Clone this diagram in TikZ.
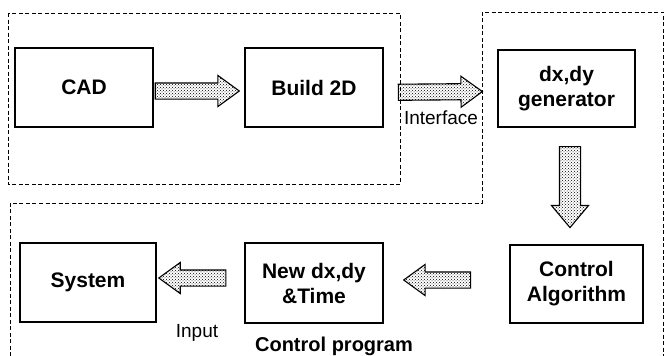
\documentclass[tikz,border=0pt]{standalone}
\usepackage{fontspec}
\setmainfont{Liberation Sans}
\usetikzlibrary{shapes.arrows,patterns,calc}
\newlength{\du}
\setlength{\du}{1pt}
\tikzset{
  blockbox/.style={draw, line width=1.4\du, inner sep=0pt, align=center,
    font=\bfseries\fontsize{21}{25}\selectfont},
  fatarrow/.style={single arrow, draw, line width=1.1\du, pattern=crosshatch dots,
    pattern color=black, inner xsep=0pt, inner ysep=7.5\du, minimum height=#1,
    single arrow head extend=7.5\du, single arrow tip angle=72, sloped, allow upside down},
  zone/.style={dash pattern=on 4\du off 2.5\du, line width=0.9\du},
  lbl/.style={inner sep=0pt, font=\fontsize{19}{22}\selectfont}
}

\begin{document}
\begin{tikzpicture}
\pgftransformxscale{1.000000}
\pgftransformyscale{-1.000000}
\useasboundingbox (0\du,0\du) rectangle (665\du,356\du);
% dashed zones
\draw[zone] (8\du,13\du) rectangle (400\du,184\du);
\draw[zone] (10\du,356\du)--(10\du,203\du)--(482\du,203\du)--(482\du,12\du)--(663\du,12\du)--(663\du,356\du);
% boxes
\node[blockbox, minimum width=138\du, minimum height=79\du] (cad) at (84\du,87.5\du){CAD};
\node[blockbox, minimum width=138\du, minimum height=79\du] (build) at (314\du,87.5\du){Build 2D};
\node[blockbox, minimum width=137\du, minimum height=77\du] (gen) at (566.5\du,88.5\du){dx,dy\\generator};
\node[blockbox, minimum width=133\du, minimum height=78\du] (alg) at (576.5\du,284\du){Control\\Algorithm};
\node[blockbox, minimum width=138\du, minimum height=80\du] (new) at (314\du,283\du){New dx,dy\\\&Time};
\node[blockbox, minimum width=136\du, minimum height=79\du] (sys) at (88\du,282.5\du){System};
% arrows
\path ($(cad.east)+(0,3.5\du)$) -- ($(build.west)+(0,3.5\du)$) node[fatarrow=84\du, pos=0.42] (a1){};
\path ($(build.east)+(0,4\du)$) -- ($(gen.west)+(0,4\du)$) node[fatarrow=84\du, pos=0.45] (a2){};
\path ($(gen.south)+(3.5\du,118\du)$) -- ($(gen.south)+(3.5\du,0)$)
  node[fatarrow=81\du, pos=0.55, inner ysep=10\du, single arrow head extend=8\du, single arrow tip angle=80] (a3){};
\path ($(alg.west)+(0,-4\du)$) -- ($(new.east)+(0,-3\du)$) node[fatarrow=67\du, pos=0.53] (a4){};
\path ($(new.west)+(0,-5\du)$) -- ($(sys.east)+(0,-4.5\du)$) node[fatarrow=67\du, pos=0.53] (a5){};
% labels
\node[lbl] (iface) at (441\du,117.5\du){Interface};
\node[lbl] (inp) at (197\du,333\du){Input};
\node[lbl, font=\bfseries\fontsize{20}{24}\selectfont] (ctrl) at (334\du,346\du){Control program};
\end{tikzpicture}
\end{document}
